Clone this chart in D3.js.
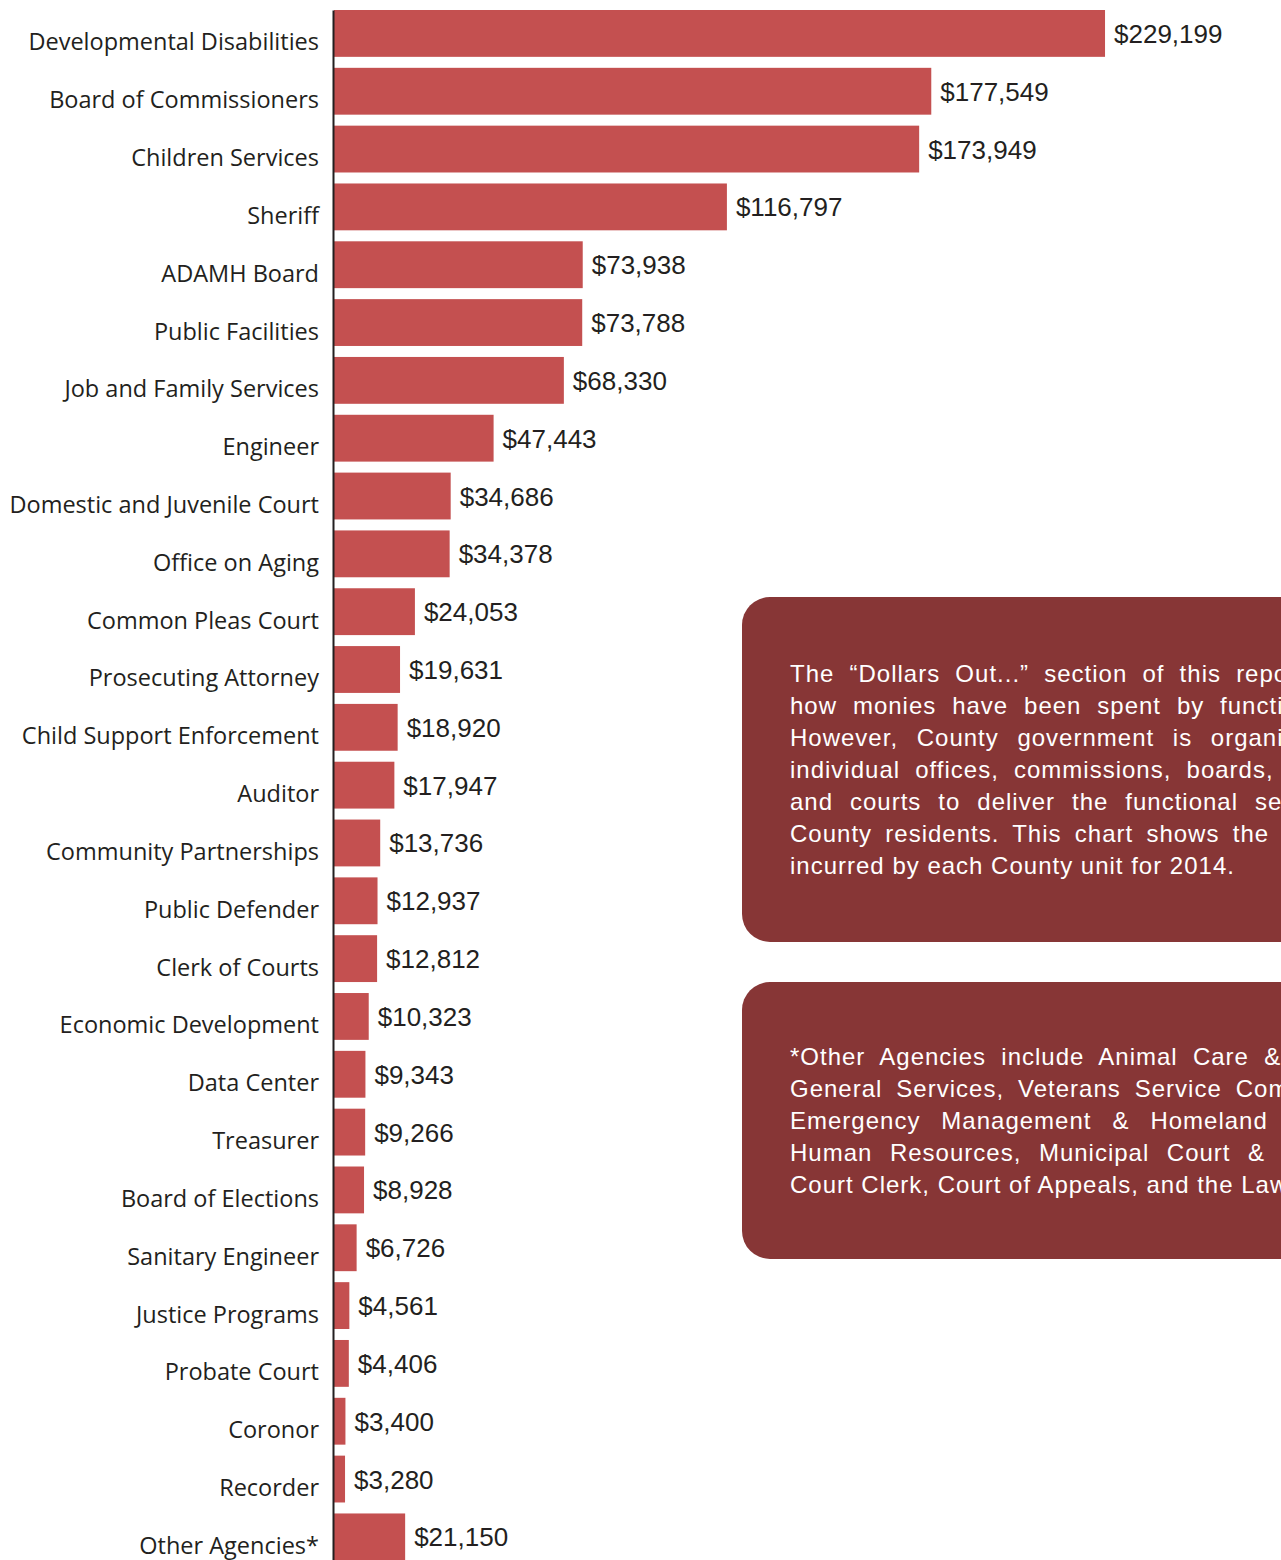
<!DOCTYPE html>
<html>
<head>
<meta charset="utf-8">
<script src="https://cdn.jsdelivr.net/npm/d3@7"></script>
<style>
html, body { margin: 0; padding: 0; overflow: hidden; background: #fff; }
svg { display: block; }
</style>
</head>
<body>
<svg id="chart" width="1281" height="1560"></svg>
<script>
// 2014 expenses by County unit
var units = [
    "Developmental Disabilities", "Board of Commissioners", "Children Services", "Sheriff",
    "ADAMH Board", "Public Facilities", "Job and Family Services", "Engineer",
    "Domestic and Juvenile Court", "Office on Aging", "Common Pleas Court", "Prosecuting Attorney",
    "Child Support Enforcement", "Auditor", "Community Partnerships", "Public Defender",
    "Clerk of Courts", "Economic Development", "Data Center", "Treasurer",
    "Board of Elections", "Sanitary Engineer", "Justice Programs", "Probate Court",
    "Coronor", "Recorder", "Other Agencies*"
];
var spend = [
    229199, 177549, 173949, 116797,
    73938, 73788, 68330, 47443,
    34686, 34378, 24053, 19631,
    18920, 17947, 13736, 12937,
    12812, 10323, 9343, 9266,
    8928, 6726, 4561, 4406,
    3400, 3280, 21150
];

var note1 = [
    "The \u201cDollars Out...\u201d section of this report shows",
    "how monies have been spent by function.",
    "However, County government is organized into",
    "individual offices, commissions, boards, agencies",
    "and courts to deliver the functional services to",
    "County residents. This chart shows the expenses",
    "incurred by each County unit for 2014."
];
var note2 = [
    "*Other Agencies include Animal Care & Control,",
    "General Services, Veterans Service Commission,",
    "Emergency Management & Homeland Security,",
    "Human Resources, Municipal Court & Municipal",
    "Court Clerk, Court of Appeals, and the Law Library."
];

var data = units.map(function(u, i) { return { unit: u, value: spend[i] }; });

var svg = d3.select("#chart");
var barColor = "#c45050", boxColor = "#873636", ink = "#231f20";

var x = d3.scaleLinear().domain([0, 250000]).range([334, 1175]);
var y = d3.scaleBand().domain(units).range([10, 1560.3]).paddingInner(0.19).paddingOuter(0);
var bw = y.bandwidth();

// bars
svg.append("g").attr("id", "bars")
    .selectAll("rect")
    .data(data).enter().append("rect")
    .attr("x", x(0))
    .attr("y", d => y(d.unit))
    .attr("width", d => x(d.value) - x(0))
    .attr("height", bw)
    .attr("fill", barColor);

// category axis
var axis = svg.append("g")
    .attr("transform", "translate(333,0)")
    .call(d3.axisLeft(y).tickSize(0).tickSizeOuter(0).tickPadding(14));
axis.select(".domain").attr("stroke", ink).attr("stroke-width", 2);
axis.selectAll("text")
    .attr("dy", "17px")
    .attr("fill", ink)
    .style("font-family", "'Open Sans', sans-serif")
    .style("font-size", "23.5px");

// value labels
var fmt = d3.format("$,");
svg.append("g").attr("id", "values")
    .selectAll("text")
    .data(data).enter().append("text")
    .attr("x", d => x(d.value) + 9)
    .attr("y", d => y(d.unit) + bw / 2 + 9.5)
    .attr("fill", ink)
    .style("font-family", "'Liberation Sans', Arial, sans-serif")
    .style("font-size", "26px")
    .text(d => fmt(d.value));

// note boxes
function noteBox(lines, top, height, firstBase, spacing) {
    var g = svg.append("g");
    g.append("rect")
        .attr("x", 742).attr("y", top)
        .attr("width", 700).attr("height", height)
        .attr("rx", 28).attr("fill", boxColor);
    g.selectAll("text")
        .data(lines).enter().append("text")
        .attr("x", 790)
        .attr("y", (d, i) => firstBase + i * 32)
        .attr("fill", "#fff")
        .style("font-family", "'Liberation Sans', Arial, sans-serif")
        .style("font-size", "24px")
        .style("letter-spacing", "1px")
        .style("word-spacing", (d, i) => spacing[i] + "px")
        .style("white-space", "pre")
        .text(d => d);
}
noteBox(note1, 597, 345, 682, [7.5, 8.2, 11, 7.5, 9.3, 5.6, 0]);
noteBox(note2, 982, 277, 1065, [7.6, 6.3, 13.3, 9.9, 0]);
</script>
</body>
</html>
